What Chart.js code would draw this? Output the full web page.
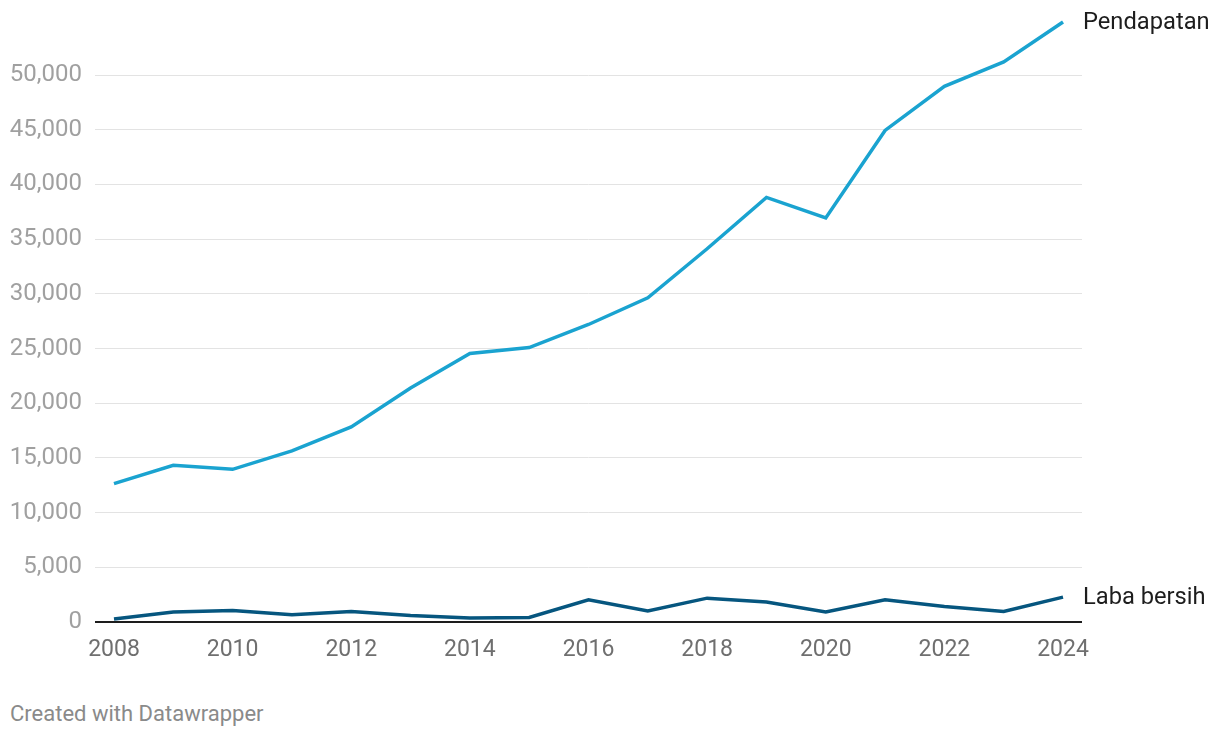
<!DOCTYPE html>
<html>
<head>
<meta charset="utf-8">
<script src="https://cdn.jsdelivr.net/npm/chart.js@4.4.1/dist/chart.umd.min.js"></script>
<style>
    html, body { margin: 0; padding: 0; background: #fff; }
    body { width: 1220px; height: 738px; position: relative; overflow: hidden; font-family: Roboto, sans-serif; }
    #wrap { position: absolute; left: 0; top: 0; width: 1220px; height: 700px; }
    #credit { position: absolute; left: 10px; top: 701px; font-size: 22px; line-height: 26px; color: #8a8a8a; }
</style>
</head>
<body>
<div id="wrap"><canvas id="chart" width="1220" height="700"></canvas></div>
<div id="credit">Created with Datawrapper</div>
<script>
const years = [2008, 2009, 2010, 2011, 2012, 2013, 2014, 2015, 2016, 2017, 2018, 2019, 2020, 2021, 2022, 2023, 2024];
const pendapatan = [12650, 14330, 13960, 15640, 17840, 21400, 24540, 25090, 27200, 29640, 34120, 38820, 36940, 44940, 48970, 51200, 54850];
const labaBersih = [270, 910, 1060, 670, 970, 600, 360, 420, 2030, 1000, 2180, 1820, 910, 2030, 1420, 970, 2270];
const seriesNames = ["Pendapatan", "Laba bersih"];
const yTicks = [0, 5000, 10000, 15000, 20000, 25000, 30000, 35000, 40000, 45000, 50000];
const xTicks = [2008, 2010, 2012, 2014, 2016, 2018, 2020, 2022, 2024];

// labels at the end of each line
const endLabels = {
    id: "endLabels",
    afterDatasetsDraw(chart) {
        const ctx = chart.ctx;
        ctx.save();
        ctx.font = "23.7px Roboto";
        ctx.fillStyle = "#1d1d1d";
        ctx.textBaseline = "middle";
        chart.data.datasets.forEach((ds, i) => {
            const meta = chart.getDatasetMeta(i);
            const last = meta.data[meta.data.length - 1];
            ctx.fillText(ds.label, last.x + 20, last.y + 1);
        });
        ctx.restore();
    }
};

const ctx = document.getElementById("chart").getContext("2d");
new Chart(ctx, {
    type: "line",
    data: {
        datasets: [
            {
                label: seriesNames[0],
                data: years.map((y, i) => ({ x: y, y: pendapatan[i] })),
                borderColor: "#1aa3d0",
                borderWidth: 3.5,
                pointRadius: 0,
                tension: 0,
                clip: false
            },
            {
                label: seriesNames[1],
                data: years.map((y, i) => ({ x: y, y: labaBersih[i] })),
                borderColor: "#06567f",
                borderWidth: 3.5,
                pointRadius: 0,
                tension: 0,
                clip: false
            }
        ]
    },
    options: {
        responsive: false,
        animation: false,
        devicePixelRatio: 1,
        layout: { padding: { top: 9, right: 138, bottom: 0, left: 0 } },
        plugins: {
            legend: { display: false },
            tooltip: { enabled: false }
        },
        scales: {
            x: {
                type: "linear",
                min: 2007.68,
                max: 2024.32,
                afterFit(scale) { scale.height = 78; },
                afterBuildTicks(axis) {
                    axis.ticks = xTicks.map(v => ({ value: v }));
                },
                grid: { display: false, drawTicks: false },
                border: { display: false },
                ticks: {
                    color: "#6f6f6f",
                    font: { family: "Roboto", size: 23 },
                    padding: 14,
                    maxRotation: 0,
                    autoSkip: false,
                    callback: v => String(v)
                }
            },
            y: {
                min: 0,
                max: 54360,
                afterFit(scale) { scale.width = 95; },
                afterBuildTicks(axis) {
                    axis.ticks = yTicks.map(v => ({ value: v }));
                },
                grid: {
                    drawTicks: false,
                    color: c => c.tick && c.tick.value === 0 ? "#1d1d1d" : "#e3e3e3",
                    lineWidth: c => c.tick && c.tick.value === 0 ? 2 : 1
                },
                border: { display: false },
                ticks: {
                    color: "#a0a0a0",
                    font: { family: "Roboto", size: 24 },
                    padding: 13,
                    autoSkip: false,
                    callback: v => v.toLocaleString("en-US")
                }
            }
        }
    },
    plugins: [endLabels]
});
</script>
</body>
</html>
